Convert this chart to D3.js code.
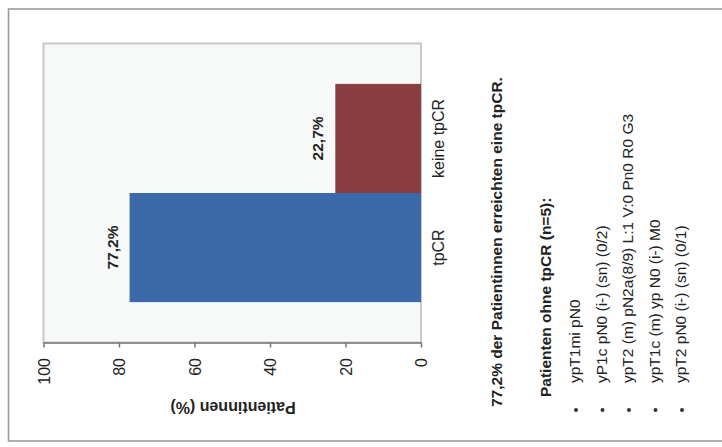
<!DOCTYPE html>
<html>
<head>
<meta charset="utf-8">
<script src="https://cdn.jsdelivr.net/npm/d3@7"></script>
<style>
  body { margin: 0; background: #fff; }
  text { font-family: "Liberation Sans", Arial, sans-serif; fill: #222; }
</style>
</head>
<body>
<div id="chart"></div>
<script>
// data
var categories = ["keine tpCR", "tpCR"];
var values = [22.7, 77.2];
var valueLabels = ["22,7%", "77,2%"];
var tickValues = [0, 20, 40, 60, 80, 100];
var axisTitle = "Patientinnen (%)";
var summary = "77,2% der Patientinnen erreichten eine tpCR.";
var listHeading = "Patienten ohne tpCR (n=5):";
var listItems = [
    "ypT1mi pN0",
    "yP1c pN0 (i-) (sn) (0/2)",
    "ypT2 (m) pN2a(8/9) L:1 V:0 Pn0 R0 G3",
    "ypT1c (m) yp N0 (i-) M0",
    "ypT2 pN0 (i-) (sn) (0/1)"
];
var colors = ["#893f41", "#3a6aa9"];

var width = 722, height = 447;

var svg = d3.select("#chart").append("svg")
    .attr("width", width)
    .attr("height", height);

// outer frame of the scanned page
svg.append("rect")
    .attr("x", 8.5).attr("y", 9)
    .attr("width", 730).attr("height", 432)
    .attr("fill", "none")
    .attr("stroke", "#9c9c9c")
    .attr("stroke-width", 1.6);

// the whole figure is turned by 90 degrees, so values run right to left
var x = d3.scaleLinear().domain([0, 100]).range([421, 43.5]);
var y = d3.scaleBand().domain(categories).range([43.5, 342.5])
    .paddingInner(0).paddingOuter(0.37);

svg.append("rect")
    .attr("x", x(100)).attr("y", 43.5)
    .attr("width", x(0) - x(100)).attr("height", 299)
    .attr("fill", "#f7f8f8")
    .attr("stroke", "#c8c8c8")
    .attr("stroke-width", 2);

svg.selectAll(".bar")
    .data(values)
    .enter().append("rect")
    .attr("class", "bar")
    .attr("x", function (d) { return x(d); })
    .attr("y", function (d, i) { return y(categories[i]); })
    .attr("width", function (d) { return x(0) - x(d); })
    .attr("height", y.bandwidth())
    .attr("fill", function (d, i) { return colors[i]; });

// value labels
svg.selectAll(".vlabel")
    .data(values)
    .enter().append("text")
    .attr("class", "vlabel")
    .attr("transform", function (d, i) {
        return "translate(" + (x(d) - 12) + "," + (y(categories[i]) + y.bandwidth() / 2) + ") rotate(-90)";
    })
    .attr("text-anchor", "middle")
    .style("font-weight", "bold")
    .style("font-size", "15.5px")
    .text(function (d, i) { return valueLabels[i]; });

// category labels
svg.selectAll(".clabel")
    .data(categories)
    .enter().append("text")
    .attr("class", "clabel")
    .attr("transform", function (d) {
        return "translate(444," + (y(d) + y.bandwidth() / 2) + ") rotate(-90)";
    })
    .attr("text-anchor", "middle")
    .style("font-size", "16px")
    .text(function (d) { return d; });

// value axis
var axis = svg.append("g")
    .attr("transform", "translate(0,342.5)")
    .call(d3.axisBottom(x).tickValues(tickValues).tickSize(5).tickSizeOuter(0));
axis.select(".domain").attr("stroke", "#777").attr("stroke-width", 1.5);
axis.selectAll(".tick line").attr("stroke", "#777").attr("stroke-width", 1.5);
axis.selectAll(".tick text")
    .attr("y", 0).attr("dy", "0.35em")
    .attr("transform", "translate(0,15.5) rotate(-90)")
    .attr("text-anchor", "end")
    .style("font-family", "'Liberation Sans', Arial, sans-serif")
    .style("font-size", "16px")
    .attr("fill", "#222");

svg.append("text")
    .attr("transform", "translate(233,408) rotate(180)")
    .attr("text-anchor", "middle")
    .attr("dy", "0.35em")
    .style("font-weight", "bold")
    .style("font-size", "16px")
    .text(axisTitle);

// text block beside the chart
svg.append("text")
    .attr("transform", "translate(502,407) rotate(-90)")
    .style("font-weight", "bold")
    .style("font-size", "15.5px")
    .text(summary);

svg.append("text")
    .attr("transform", "translate(551,397) rotate(-90)")
    .style("font-weight", "bold")
    .style("font-size", "15.5px")
    .text(listHeading);

var items = svg.selectAll(".item")
    .data(listItems)
    .enter().append("g")
    .attr("class", "item")
    .attr("transform", function (d, i) { return "translate(" + (580 + i * 26.5) + ",0)"; });

items.append("text")
    .attr("transform", "translate(0,383) rotate(-90)")
    .style("font-size", "15.5px")
    .text(function (d) { return d; });

items.append("circle")
    .attr("cx", -4).attr("cy", 410).attr("r", 2)
    .attr("fill", "#333");
</script>
</body>
</html>
